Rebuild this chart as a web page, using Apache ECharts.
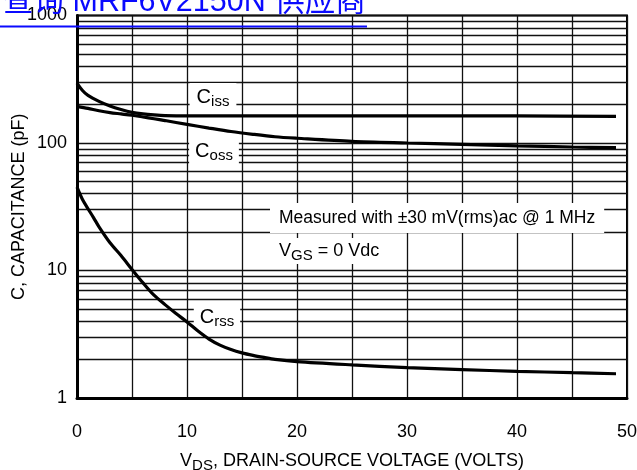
<!DOCTYPE html>
<html>
<head>
<meta charset="utf-8">
<script src="https://cdn.jsdelivr.net/npm/echarts@6/dist/echarts.min.js"></script>
<style>
  html, body { margin: 0; padding: 0; background: #fff; }
  #chart { width: 637px; height: 470px; }
</style>
</head>
<body>
<div id="chart"></div>
<script>
// Capacitance vs drain-source voltage
var cissV = [0, 0.5, 1, 2, 3, 4, 5, 6, 7, 8, 10, 15, 20, 30, 40, 49];
var ciss  = [295, 258, 236, 212, 195, 183, 174, 169, 166, 164, 163, 163, 163, 163, 163, 162];

var cossV = [0, 1, 2, 3, 4, 5, 6, 7, 8, 10, 12, 14, 16, 18, 20, 25, 30, 35, 40, 45, 49];
var coss  = [194, 187, 179, 173, 169, 165, 160, 155, 150, 140, 131, 123, 117, 112, 109, 103, 100, 97.5, 95, 93, 92];

var crssV = [0, 0.5, 1, 1.5, 2, 3, 4, 5, 6, 7, 8, 9, 10, 11, 12, 13, 14, 15, 16, 17, 18, 20, 25, 30, 35, 40, 45, 49];
var crss  = [45, 36, 30.5, 26, 22, 16.5, 13.1, 10.2, 8.0, 6.4, 5.4, 4.6, 3.95, 3.35, 2.9, 2.6, 2.4, 2.26, 2.16, 2.08, 2.01, 1.93, 1.82, 1.73, 1.67, 1.62, 1.58, 1.55];

// minor log grid lines (2..9 in each decade)
var minorLines = [2, 3, 4, 5, 6, 7, 8, 9, 20, 30, 40, 50, 60, 70, 80, 90, 200, 300, 400, 500, 600, 700, 800, 900];

var FONT = "'Liberation Sans Narrow', 'Liberation Sans', Arial, sans-serif";

function pairs(xs, ys) {
  return xs.map(function (x, i) { return [x, ys[i]]; });
}

function curve(name, xs, ys) {
  return {
    name: name,
    type: 'line',
    data: pairs(xs, ys),
    smooth: 0.3,
    symbol: 'none',
    z: 3,
    lineStyle: { color: '#000', width: 3.2 }
  };
}

var sub = { fontSize: 15, fontFamily: FONT, padding: [9, 0, 0, 0] };
var big = { fontSize: 20, fontFamily: FONT };

function label(x, y, text, px) {
  return {
    type: 'text',
    x: x, y: y, z: 1,
    style: {
      text: text,
      align: 'center', verticalAlign: 'middle',
      backgroundColor: '#fff',
      padding: [2, px, 2, px],
      fill: '#000',
      rich: { c: big, s: sub }
    }
  };
}

var chart = echarts.init(document.getElementById('chart'));

chart.setOption({
  animation: false,
  textStyle: { fontFamily: FONT, color: '#000' },
  grid: {
    left: 77, right: 10, top: 15.5, bottom: 72,
    outerBoundsMode: 'none',
    containLabel: false,
    show: true, borderColor: '#000', borderWidth: 2
  },
  xAxis: {
    type: 'value',
    min: 0, max: 50, interval: 5,
    name: 'V{s|DS}, DRAIN-SOURCE VOLTAGE (VOLTS)',
    nameLocation: 'middle',
    nameGap: 51,
    nameMoveOverlap: false,
    nameTextStyle: { fontSize: 18, color: '#000', rich: { s: sub } },
    axisLine: { lineStyle: { color: '#000', width: 3 } },
    axisTick: { show: false },
    axisLabel: {
      fontSize: 18, color: '#000', margin: 25,
      formatter: function (v) { return v % 10 === 0 ? String(v) : ''; }
    },
    splitLine: { show: true, lineStyle: { color: '#111', width: 1.3 } }
  },
  yAxis: {
    type: 'log',
    logBase: 10,
    min: 1, max: 1000,
    name: 'C, CAPACITANCE (pF)',
    nameLocation: 'middle',
    nameGap: 49,
    nameMoveOverlap: false,
    nameTextStyle: { fontSize: 18, color: '#000' },
    axisLine: { show: true, lineStyle: { color: '#000', width: 3 } },
    axisTick: { show: false },
    axisLabel: {
      fontSize: 18, color: '#000', margin: 10,
      formatter: function (v) { return String(Math.round(v)); }
    },
    splitLine: { show: true, lineStyle: { color: '#111', width: 1.3 } }
  },
  series: [
    {
      type: 'line',
      data: [],
      z: 0,
      silent: true,
      markLine: {
        z: 0,
        silent: true,
        symbol: ['none', 'none'],
        label: { show: false },
        lineStyle: { color: '#111', width: 1.3, type: 'solid' },
        data: minorLines.map(function (v) { return { yAxis: v }; })
      }
    },
    curve('Ciss', cissV, ciss),
    curve('Coss', cossV, coss),
    curve('Crss', crssV, crss)
  ],
  graphic: [
    label(213, 97, '{c|C}{s|iss}', 7),
    label(214, 151, '{c|C}{s|oss}', 6),
    label(217, 317, '{c|C}{s|rss}', 6),
    {
      type: 'text', x: 270, y: 203, z: 1,
      style: {
        text: 'Measured with \u00b130 mV(rms)ac @ 1 MHz',
        font: '17.5px ' + FONT,
        fill: '#000',
        backgroundColor: '#fff',
        padding: [6, 9, 6, 9]
      }
    },
    {
      type: 'text', x: 277, y: 238, z: 1,
      style: {
        text: 'V{s|GS} = 0 Vdc',
        font: '18px ' + FONT,
        fill: '#000',
        backgroundColor: '#fff',
        padding: [1, 2, 1, 2],
        rich: { s: sub }
      }
    },
    // hyperlink banner overlaying the top of the scan
    {
      type: 'text', x: 3, y: 18, z: 20,
      style: {
        text: '查询 MRF6V2150N 供应商',
        font: "30.5px 'Liberation Sans', 'Noto Sans CJK SC', sans-serif",
        fill: '#0a0aff',
        verticalAlign: 'bottom'
      }
    },
    {
      type: 'line', z: 20,
      shape: { x1: 0, y1: 26.5, x2: 367, y2: 26.5 },
      style: { stroke: '#0a0aff', lineWidth: 2 }
    }
  ]
});
</script>
</body>
</html>
